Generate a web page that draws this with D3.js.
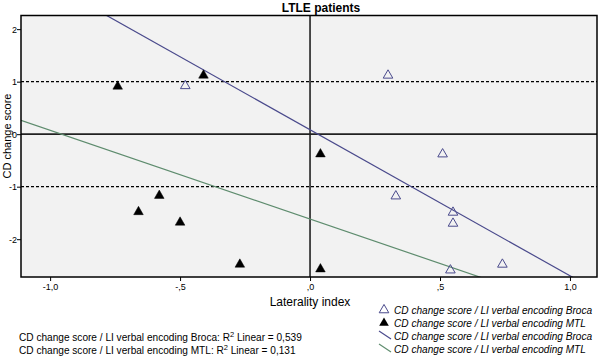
<!DOCTYPE html>
<html><head><meta charset="utf-8">
<script src="https://cdn.jsdelivr.net/npm/d3@7"></script>
<style>body{margin:0;background:#fff}svg{display:block}text{font-family:"Liberation Sans",Arial,sans-serif}</style>
</head><body><svg id="c" width="600" height="356"></svg>
<script>
const brocaX = [-0.48, 0.30, 0.51, 0.33, 0.55, 0.55, 0.54, 0.74];
const brocaY = [0.92, 1.12, -0.38, -1.18, -1.49, -1.70, -2.59, -2.48];
const mtlX = [-0.74, -0.41, -0.66, -0.58, -0.50, -0.27, 0.04, 0.04];
const mtlY = [0.91, 1.12, -1.48, -1.17, -1.68, -2.48, -0.38, -2.57];
const xTicks = [-1, -0.5, 0, 0.5, 1];
const xTickLabels = ["-1,0", "-,5", ",0", ",5", "1,0"];
const yTicks = [-2, -1, 0, 1, 2];
const yTickLabels = ["-2", "-1", "0", "1", "2"];
const seriesNames = ["CD change score / LI verbal encoding Broca", "CD change score / LI verbal encoding MTL"];
const r2Labels = ["0,539", "0,131"];

const svg = d3.select("#c");
const L = 21, R = 597, T = 15.5, B = 277;
const x = d3.scaleLinear().domain([-1.112, 1.104]).range([L, R]);
const y = d3.scaleLinear().domain([-2.72, 2.26]).range([B, T]);
const cBroca = "#4a4a8c", cMtl = "#5e8c6e";

svg.append("defs").append("clipPath").attr("id", "clip").append("rect")
  .attr("x", L).attr("y", T).attr("width", R - L).attr("height", B - T);

svg.append("rect").attr("x", L).attr("y", T).attr("width", R - L).attr("height", B - T)
  .attr("fill", "#f2f2f2");

const g = svg.append("g").attr("clip-path", "url(#clip)");
[1, -1].forEach(v => g.append("line").attr("x1", L).attr("x2", R).attr("y1", y(v)).attr("y2", y(v))
  .attr("stroke", "#000").attr("stroke-width", 1.3).attr("stroke-dasharray", "3,2"));
g.append("line").attr("x1", L).attr("x2", R).attr("y1", y(0)).attr("y2", y(0)).attr("stroke", "#222").attr("stroke-width", 1.6);
g.append("line").attr("x1", x(0)).attr("x2", x(0)).attr("y1", T).attr("y2", B).attr("stroke", "#222").attr("stroke-width", 1.6);

function fit(xs, ys) {
  const mx = d3.mean(xs), my = d3.mean(ys);
  let sxy = 0, sxx = 0;
  xs.forEach((v, i) => { sxy += (v - mx) * (ys[i] - my); sxx += (v - mx) ** 2; });
  const b = sxy / sxx; return { b, a: my - b * mx };
}
[[brocaX, brocaY, cBroca], [mtlX, mtlY, cMtl]].forEach(([xs, ys, c]) => {
  const f = fit(xs, ys);
  const d = x.domain();
  g.append("line").attr("x1", x(d[0])).attr("y1", y(f.a + f.b * d[0]))
    .attr("x2", x(d[1])).attr("y2", y(f.a + f.b * d[1]))
    .attr("stroke", c).attr("stroke-width", 1.2);
});

const tri = d3.symbol().type(d3.symbolTriangle).size(40);
g.selectAll(".b").data(brocaX).enter().append("path")
  .attr("d", tri).attr("transform", (d, i) => `translate(${x(d)},${y(brocaY[i])})`)
  .attr("fill", "none").attr("stroke", cBroca).attr("stroke-width", 1);
g.selectAll(".m").data(mtlX).enter().append("path")
  .attr("d", tri).attr("transform", (d, i) => `translate(${x(d)},${y(mtlY[i])})`)
  .attr("fill", "#000").attr("stroke", "#000").attr("stroke-width", 0.5);

svg.append("rect").attr("x", L).attr("y", T).attr("width", R - L).attr("height", B - T)
  .attr("fill", "none").attr("stroke", "#000").attr("stroke-width", 1.5);

const xa = svg.append("g").attr("transform", `translate(0,${B})`)
  .call(d3.axisBottom(x).tickValues(xTicks).tickSize(4).tickFormat((d, i) => xTickLabels[i]));
const ya = svg.append("g").attr("transform", `translate(${L},0)`)
  .call(d3.axisLeft(y).tickValues(yTicks).tickSize(4).tickFormat((d, i) => yTickLabels[i]));
[xa, ya].forEach(a => { a.select(".domain").remove();
  a.selectAll("text").attr("font-size", 9).attr("fill", "#000").attr("font-family", "Liberation Sans, Arial, sans-serif");
  a.selectAll("line").attr("stroke", "#000"); });
xa.selectAll("text").attr("dy", "0.9em").attr("y", 5);
ya.selectAll("text").attr("x", -4);

svg.append("text").attr("x", 321).attr("y", 12).attr("text-anchor", "middle")
  .attr("font-size", 12).attr("font-weight", "bold").text("LTLE patients");
svg.append("text").attr("x", 310).attr("y", 306).attr("text-anchor", "middle")
  .attr("font-size", 12).text("Laterality index");
svg.append("text").attr("transform", `translate(11,136) rotate(-90)`).attr("text-anchor", "middle")
  .attr("font-size", 11).text("CD change score");

r2Labels.forEach((v, i) => {
  const t = svg.append("text").attr("x", 19).attr("y", 341 + i * 12.5).attr("font-size", 10.1);
  t.append("tspan").text(seriesNames[i] + ": R");
  t.append("tspan").attr("font-size", 7.5).attr("dy", -4).text("2");
  t.append("tspan").attr("dy", 4).text(" Linear = " + v);
});

const lg = svg.append("g");
const ly = [314, 327, 340, 353];
const lx = 384;
lg.append("path").attr("d", tri).attr("transform", `translate(${lx},${ly[0] - 4})`).attr("fill", "none").attr("stroke", cBroca);
lg.append("path").attr("d", tri).attr("transform", `translate(${lx},${ly[1] - 4})`).attr("fill", "#000");
lg.append("line").attr("x1", lx - 5).attr("y1", ly[2] - 9).attr("x2", lx + 7).attr("y2", ly[2] - 1).attr("stroke", cBroca).attr("stroke-width", 1.1);
lg.append("line").attr("x1", lx - 5).attr("y1", ly[3] - 9).attr("x2", lx + 7).attr("y2", ly[3] - 1).attr("stroke", cMtl).attr("stroke-width", 1.1);
[0, 1, 0, 1].forEach((s, i) => lg.append("text").attr("x", 394).attr("y", ly[i]).attr("font-size", 10.1)
  .attr("font-style", "italic").text(seriesNames[s]));
</script></body></html>
